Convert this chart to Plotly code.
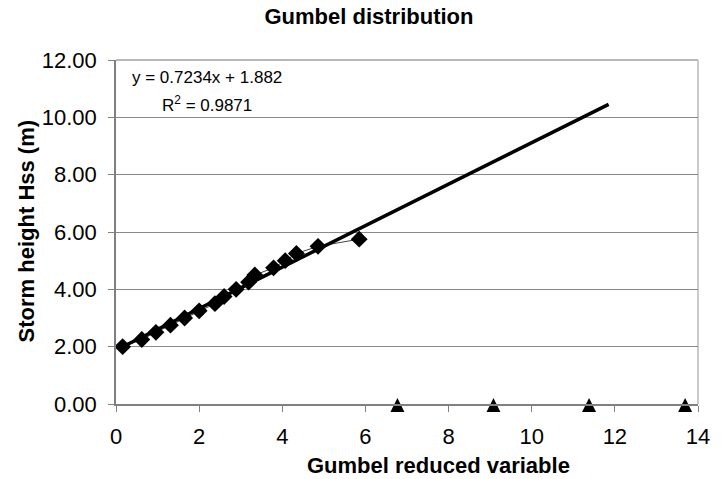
import plotly.graph_objects as go

# Data
reduced_var = [0.16, 0.62, 0.96, 1.31, 1.65, 2.00, 2.38, 2.60, 2.89, 3.19, 3.34, 3.79, 4.07, 4.34, 4.86, 5.85]
storm_height = [2.00, 2.25, 2.50, 2.75, 3.00, 3.25, 3.50, 3.75, 4.00, 4.25, 4.50, 4.75, 5.00, 5.25, 5.50, 5.75]

triangle_x = [6.77, 9.08, 11.38, 13.69]
triangle_y = [0.0, 0.0, 0.0, 0.0]

slope = 0.7234
intercept = 1.882
trend_x = [0.16, 11.85]
trend_y = [slope * v + intercept for v in trend_x]

x_ticks = [0, 2, 4, 6, 8, 10, 12, 14]
y_ticks = [0, 2, 4, 6, 8, 10, 12]

FONT = "Arial, Liberation Sans, sans-serif"

W, H = 722, 479
L, R, T, B = 116, 13, 60, 75
pw = W - L - R
ph = H - T - B
px_per_unit = ph / 12.0
# the triangle markers are anchored at their tip; lift the tip ~6px above its value
tip_shift = 6 / px_per_unit

fig = go.Figure()

fig.add_trace(go.Scatter(
    x=reduced_var, y=storm_height, mode="lines+markers",
    line=dict(color="#444444", width=1),
    marker=dict(symbol="diamond", size=13, color="black"),
    showlegend=False,
))
fig.add_trace(go.Scatter(
    x=trend_x, y=trend_y, mode="lines",
    line=dict(color="black", width=3.5),
    showlegend=False,
))
fig.add_trace(go.Scatter(
    x=triangle_x, y=triangle_y, mode="markers", yaxis="y2",
    marker=dict(symbol="arrow-up", size=14, color="black"),
    cliponaxis=False,
    showlegend=False,
))

fig.update_layout(
    width=W, height=H,
    margin=dict(l=L, r=R, t=T, b=B),
    paper_bgcolor="white", plot_bgcolor="white",
    font=dict(family=FONT, color="black"),
    title=dict(text="<b>Gumbel distribution</b>", font=dict(size=22, family=FONT, color="black"),
               x=369 / W, xref="container", xanchor="center",
               y=1 - 16 / H, yref="container", yanchor="middle"),
    xaxis=dict(range=[0, 14], tickvals=x_ticks, ticktext=[str(v) for v in x_ticks],
               showgrid=False, zeroline=False,
               showline=True, linecolor="#808080", linewidth=1.5,
               ticks="outside", ticklen=6, tickcolor="#808080", tickwidth=1,
               tickfont=dict(size=22, family=FONT, color="black"),
               ticklabelstandoff=6),
    yaxis=dict(range=[0, 12], tickvals=y_ticks, ticktext=[f"{v:.2f}" for v in y_ticks],
               showgrid=True, gridcolor="#8a8a8a", gridwidth=1, zeroline=False,
               showline=True, linecolor="#808080", linewidth=1.5,
               ticks="outside", ticklen=6, tickcolor="#808080", tickwidth=1,
               tickfont=dict(size=22, family=FONT, color="black"),
               ticklabelstandoff=7),
    yaxis2=dict(range=[-tip_shift, 12 - tip_shift], overlaying="y", visible=False),
    shapes=[
        dict(type="line", xref="paper", yref="paper", x0=0, x1=1, y0=1, y1=1,
             line=dict(color="#b8b8b8", width=2), layer="above"),
        dict(type="line", xref="paper", yref="paper", x0=1, x1=1, y0=0, y1=1,
             line=dict(color="#b8b8b8", width=1.5), layer="below"),
    ],
    annotations=[
        dict(text="<b>Gumbel reduced variable</b>", xref="paper", yref="paper",
             x=(445 - L) / pw, y=(404.3 - 466) / ph, xanchor="center", yanchor="middle",
             showarrow=False, font=dict(size=22, family=FONT, color="black")),
        dict(text="<b>Storm height Hss (m)</b>", xref="paper", yref="paper",
             x=(25 - L) / pw, y=(404.3 - 232) / ph, xanchor="center", yanchor="middle",
             textangle=-90, showarrow=False, font=dict(size=22, family=FONT, color="black")),
        dict(text=f"y = {slope}x + {intercept}", xref="paper", yref="paper",
             x=(130 - L) / pw, y=(404.3 - 78) / ph, xanchor="left", yanchor="middle",
             showarrow=False, font=dict(size=17, family=FONT, color="black")),
        dict(text="R<sup>2</sup> = 0.9871", xref="paper", yref="paper",
             x=(161 - L) / pw, y=(404.3 - 104) / ph, xanchor="left", yanchor="middle",
             showarrow=False, font=dict(size=17, family=FONT, color="black")),
    ],
)

fig.write_html("out.html")
